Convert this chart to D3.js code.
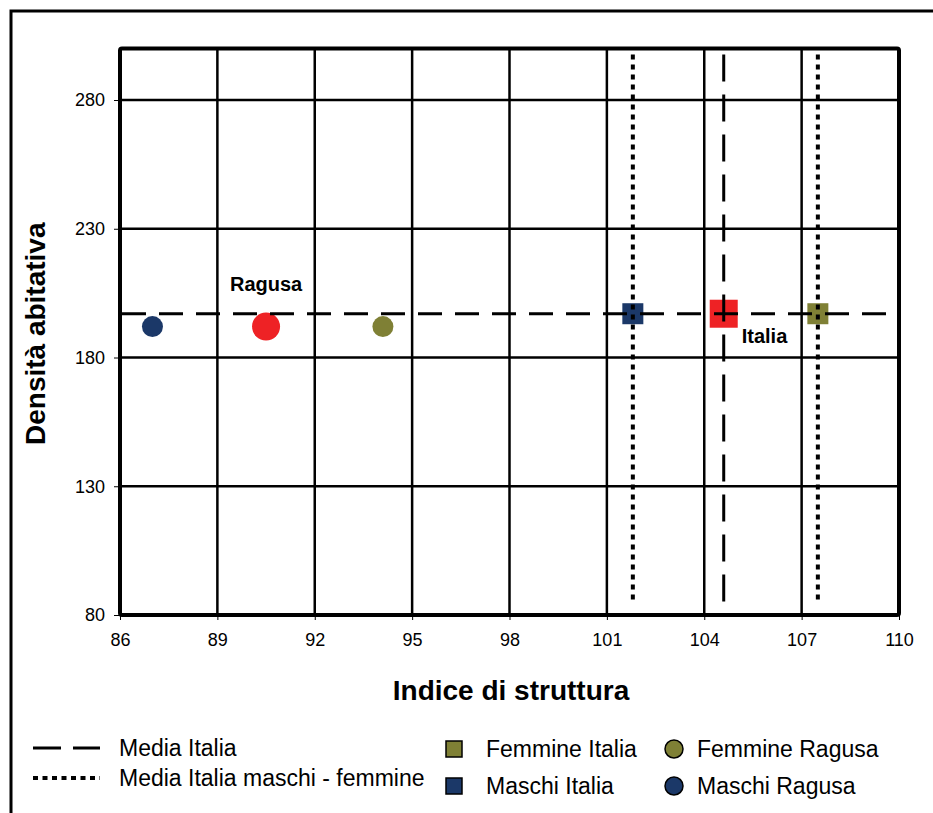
<!DOCTYPE html>
<html><head><meta charset="utf-8">
<script src="https://cdn.jsdelivr.net/npm/d3@7"></script>
<style>body{margin:0;background:#fff}svg{display:block;font-family:"Liberation Sans",Arial,sans-serif}</style>
</head><body><div id="chart"></div>
<script>
const xTicks = [86, 89, 92, 95, 98, 101, 104, 107, 110];
const yTicks = [80, 130, 180, 230, 280];
const seriesNames = ["Maschi Ragusa", "Ragusa", "Femmine Ragusa", "Maschi Italia", "Italia", "Femmine Italia"];
const seriesX = [87.0, 90.5, 94.1, 101.8, 104.6, 107.5];
const seriesY = [192, 192, 192, 197, 197, 197];
const seriesShape = ["circle", "circle", "circle", "square", "square", "square"];
const seriesColor = ["#1b3868", "#ee2225", "#7f8035", "#1b3868", "#ee2225", "#7f8035"];
const seriesBig = [false, true, false, false, true, false];
const refVX = [101.8, 104.6, 107.5];
const refVStyle = ["dot", "dash", "dot"];
const refHY = [197];
const legendLines = ["Media Italia", "Media Italia maschi - femmine"];
const legendSquares = ["Femmine Italia", "Maschi Italia"];
const legendCircles = ["Femmine Ragusa", "Maschi Ragusa"];

const W = 933, H = 813;
const m = {l: 120, t: 48.5, r: 34, b: 198};
const svg = d3.select("#chart").append("svg").attr("width", W).attr("height", H);
const x = d3.scaleLinear().domain([86, 110]).range([m.l, W - m.r]);
const y = d3.scaleLinear().domain([80, 300]).range([H - m.b, m.t]);

// outer frame
svg.append("rect").attr("x", 11).attr("y", 11).attr("width", W + 20).attr("height", H + 20)
  .attr("fill", "none").attr("stroke", "#000").attr("stroke-width", 3);

// grid
const g = svg.append("g");
g.selectAll(".vg").data(xTicks.slice(1, -1)).join("line")
  .attr("x1", d => x(d)).attr("x2", d => x(d)).attr("y1", y(300)).attr("y2", y(80))
  .attr("stroke", "#000").attr("stroke-width", 2.5);
g.selectAll(".hg").data(yTicks.slice(1)).join("line")
  .attr("x1", x(86)).attr("x2", x(110)).attr("y1", d => y(d)).attr("y2", d => y(d))
  .attr("stroke", "#000").attr("stroke-width", 2.5);

// axes
const ya = svg.append("g").attr("transform", `translate(${m.l},0)`)
  .call(d3.axisLeft(y).tickValues(yTicks).tickSize(6).tickPadding(9));
const xa = svg.append("g").attr("transform", `translate(0,${H - m.b})`)
  .call(d3.axisBottom(x).tickValues(xTicks).tickSize(5).tickPadding(13));
[ya, xa].forEach(a => {
  a.select(".domain").remove();
  a.selectAll("line").attr("stroke", "#000").attr("stroke-width", 1);
  a.selectAll("text").attr("font-size", 18).attr("fill", "#000").attr("font-family", "Liberation Sans, Arial, sans-serif");
});

// markers
const pts = seriesX.map((v, i) => ({x: v, y: seriesY[i], shape: seriesShape[i], c: seriesColor[i], big: seriesBig[i]}));
const pg = svg.append("g");
pts.forEach(p => {
  if (p.shape === "circle") {
    pg.append("circle").attr("cx", x(p.x)).attr("cy", y(p.y)).attr("r", p.big ? 14 : 10.5).attr("fill", p.c);
  } else {
    const s = p.big ? 28 : 21;
    pg.append("rect").attr("x", x(p.x) - s / 2).attr("y", y(p.y) - s / 2).attr("width", s).attr("height", s).attr("fill", p.c);
  }
});

// reference lines
svg.selectAll(".rv").data(refVX).join("line")
  .attr("x1", d => x(d)).attr("x2", d => x(d)).attr("y1", y(300) + 6).attr("y2", y(80) - 12)
  .attr("stroke", "#000").attr("stroke-width", (d, i) => refVStyle[i] === "dot" ? 4 : 3)
  .attr("stroke-dasharray", (d, i) => refVStyle[i] === "dot" ? "5,5" : "27,13");
svg.selectAll(".rh").data(refHY).join("line")
  .attr("x1", x(86) + 2).attr("x2", x(110) - 8).attr("y1", d => y(d)).attr("y2", d => y(d))
  .attr("stroke", "#000").attr("stroke-width", 3).attr("stroke-dasharray", "24,13");

// plot border
svg.append("rect").attr("x", m.l).attr("y", m.t).attr("width", W - m.l - m.r).attr("height", H - m.t - m.b)
  .attr("fill", "none").attr("stroke", "#000").attr("stroke-width", 4).attr("rx", 2);

// annotations
svg.append("text").attr("x", x(seriesX[1])).attr("y", y(seriesY[1]) - 36).attr("text-anchor", "middle")
  .attr("font-size", 20).attr("font-weight", "bold").text(seriesNames[1]);
svg.append("text").attr("x", x(seriesX[4]) + 18).attr("y", y(seriesY[4]) + 29).attr("text-anchor", "start")
  .attr("font-size", 20).attr("font-weight", "bold").text(seriesNames[4]);

// axis titles
svg.append("text").attr("x", 511).attr("y", 700).attr("text-anchor", "middle")
  .attr("font-size", 28).attr("font-weight", "bold").text("Indice di struttura");
svg.append("text").attr("transform", `translate(45,${(m.t + H - m.b) / 2 + 2}) rotate(-90)`).attr("text-anchor", "middle")
  .attr("font-size", 28).attr("font-weight", "bold").text("Densità abitativa");

// legend
const lg = svg.append("g").attr("font-size", 23);
legendLines.forEach((t, i) => {
  const yy = 748 + i * 30;
  lg.append("line").attr("x1", 33).attr("x2", 100).attr("y1", yy).attr("y2", yy)
    .attr("stroke", "#000").attr("stroke-width", i === 0 ? 3 : 4)
    .attr("stroke-dasharray", i === 0 ? "28,12" : "5,4.5");
  lg.append("text").attr("x", 119).attr("y", yy + 8).text(t);
});
const sqColors = [seriesColor[5], seriesColor[3]];
legendSquares.forEach((t, i) => {
  const yy = 749 + i * 37;
  lg.append("rect").attr("x", 446).attr("y", yy - 8).attr("width", 16).attr("height", 16)
    .attr("fill", sqColors[i]).attr("stroke", "#000").attr("stroke-width", 1.5);
  lg.append("text").attr("x", 486).attr("y", yy + 8).text(t);
});
const ciColors = [seriesColor[2], seriesColor[0]];
legendCircles.forEach((t, i) => {
  const yy = 749 + i * 37;
  lg.append("circle").attr("cx", 674).attr("cy", yy).attr("r", 9)
    .attr("fill", ciColors[i]).attr("stroke", "#000").attr("stroke-width", 1.5);
  lg.append("text").attr("x", 697).attr("y", yy + 8).text(t);
});
</script></body></html>
